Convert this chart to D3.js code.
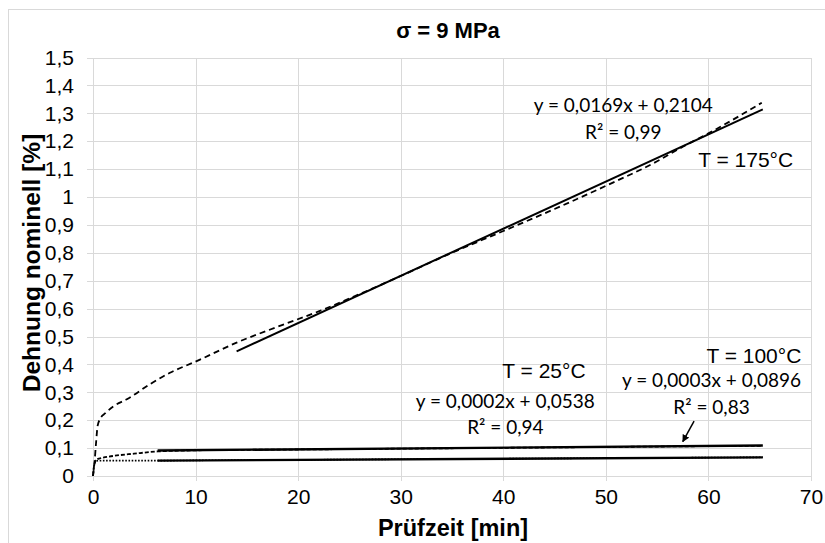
<!DOCTYPE html>
<html>
<head>
<meta charset="utf-8">
<script src="https://cdn.jsdelivr.net/npm/d3@7"></script>
<style>
  html, body { margin: 0; padding: 0; background: #fff; }
  svg { display: block; }
</style>
</head>
<body>
<svg id="chart" width="825" height="543"></svg>
<script>
// Creep test at sigma = 9 MPa: nominal strain over test time for three temperatures

// T = 175 °C measured curve (time in min, strain in %)
const t175 = [0, 0.15, 0.3, 0.45, 0.7, 1.2, 2, 3.3, 5.6, 7.5, 10, 14, 18, 22, 26, 30, 35, 40, 45, 50, 55, 57.5, 60, 63, 65.2];
const e175 = [0, 0.05, 0.12, 0.18, 0.205, 0.225, 0.25, 0.275, 0.33, 0.37, 0.41, 0.478, 0.535, 0.59, 0.652, 0.717, 0.8, 0.878, 0.957, 1.04, 1.128, 1.18, 1.228, 1.29, 1.338];

// T = 100 °C measured curve
const t100 = [0, 0.1, 0.3, 1, 2, 4, 6.3, 10, 20, 30, 40, 50, 60, 65.3];
const e100 = [0, 0.035, 0.058, 0.066, 0.072, 0.08, 0.088, 0.092, 0.095, 0.098, 0.101, 0.104, 0.107, 0.108];

// T = 25 °C measured curve
const t25 = [0, 0.1, 0.3, 1, 3, 6.3, 10, 20, 30, 40, 50, 60, 65.3];
const e25 = [0, 0.035, 0.054, 0.055, 0.055, 0.055, 0.056, 0.058, 0.06, 0.062, 0.064, 0.066, 0.067];

// Linear trendlines: slope, intercept, fitted time range
const fitSlope = [0.0169, 0.0003, 0.0002];
const fitIntercept = [0.2104, 0.0896, 0.0538];
const fitStart = [14, 6.3, 6.3];
const fitEnd = [65.3, 65.3, 65.3];
const fitEquation = ["y = 0,0169x + 0,2104", "y = 0,0003x + 0,0896", "y = 0,0002x + 0,0538"];
const fitR2 = ["R\u00B2 = 0,99", "R\u00B2 = 0,83", "R\u00B2 = 0,94"];
const seriesLabel = ["T = 175\u00B0C", "T = 100\u00B0C", "T = 25\u00B0C"];

// Axis ticks
const xTicks = [0, 10, 20, 30, 40, 50, 60, 70];
const yTicks = [0, 0.1, 0.2, 0.3, 0.4, 0.5, 0.6, 0.7, 0.8, 0.9, 1.0, 1.1, 1.2, 1.3, 1.4, 1.5];

const title = "\u03C3 = 9 MPa";
const xTitle = "Pr\u00FCfzeit [min]";
const yTitle = "Dehnung nominell [%]";

const svg = d3.select("#chart");
const W = 825, H = 543;
const plot = { left: 93, right: 811, top: 57.5, bottom: 476 };

const x = d3.scaleLinear().domain([0, 70]).range([plot.left, plot.right]);
const y = d3.scaleLinear().domain([0, 1.5]).range([plot.bottom, plot.top]);

const locale = d3.formatLocale({ decimal: ",", thousands: ".", grouping: [3], currency: ["", " €"] });
const fmt = v => locale.format("~g")(+v.toFixed(1));

const gridColor = "#d9d9d9";
const tickFont = "'Liberation Sans', Arial, sans-serif";
const calibriLike = "Lato, 'Noto Sans', sans-serif";

// chart area frame
svg.append("rect")
  .attr("x", 8.5).attr("y", 9.5)
  .attr("width", W + 20).attr("height", H + 20)
  .attr("fill", "#fff").attr("stroke", gridColor).attr("stroke-width", 1);

// horizontal gridlines with left tick marks
svg.append("g")
  .attr("transform", `translate(${plot.left},0)`)
  .call(d3.axisLeft(y).tickValues(yTicks).tickSizeInner(-(plot.right - plot.left)).tickSizeOuter(0).tickFormat(""))
  .call(g => g.select(".domain").remove())
  .call(g => g.selectAll(".tick line")
    .attr("x1", -6).attr("stroke", gridColor).attr("stroke-width", 1)
    .attr("shape-rendering", "crispEdges"));

// vertical gridlines with bottom tick marks
svg.append("g")
  .attr("transform", `translate(0,${plot.bottom})`)
  .call(d3.axisBottom(x).tickValues(xTicks).tickSizeInner(-(plot.bottom - plot.top)).tickSizeOuter(0).tickFormat(""))
  .call(g => g.select(".domain").remove())
  .call(g => g.selectAll(".tick line")
    .attr("y1", 5).attr("stroke", gridColor).attr("stroke-width", 1)
    .attr("shape-rendering", "crispEdges"));

// y tick labels
svg.append("g")
  .attr("transform", `translate(${plot.left},0)`)
  .call(d3.axisLeft(y).tickValues(yTicks).tickSize(0).tickPadding(19).tickFormat(fmt))
  .call(g => g.select(".domain").remove())
  .call(g => g.selectAll(".tick text")
    .attr("font-family", tickFont).attr("font-size", 21).attr("fill", "#000"));

// x tick labels
svg.append("g")
  .attr("transform", `translate(0,${plot.bottom})`)
  .call(d3.axisBottom(x).tickValues(xTicks).tickSize(0).tickPadding(13).tickFormat(d => String(d)))
  .call(g => g.select(".domain").remove())
  .call(g => g.selectAll(".tick text")
    .attr("font-family", tickFont).attr("font-size", 21).attr("fill", "#000"));

// measured curves
const line = d3.line().x(d => x(d[0])).y(d => y(d[1])).curve(d3.curveMonotoneX);
const zip = (a, b) => a.map((v, i) => [v, b[i]]);

svg.append("path").datum(zip(t25, e25))
  .attr("d", line).attr("fill", "none").attr("stroke", "#000")
  .attr("stroke-width", 1.6).attr("stroke-dasharray", "1.6,1.6");

svg.append("path").datum(zip(t100, e100))
  .attr("d", line).attr("fill", "none").attr("stroke", "#000")
  .attr("stroke-width", 1.8).attr("stroke-dasharray", "4,2");

svg.append("path").datum(zip(t175, e175))
  .attr("d", line).attr("fill", "none").attr("stroke", "#000")
  .attr("stroke-width", 1.8).attr("stroke-dasharray", "6,4");

// linear trendlines
fitSlope.forEach((m, i) => {
  const pts = [fitStart[i], fitEnd[i]].map(t => [t, m * t + fitIntercept[i]]);
  svg.append("path").datum(pts)
    .attr("d", d3.line().x(d => x(d[0])).y(d => y(d[1])))
    .attr("fill", "none").attr("stroke", "#000")
    .attr("stroke-width", i === 0 ? 2 : 2.4);
});

// trendline equations and coefficients of determination (placed in data space)
const eqPos = [[51.7, 1.304], [60.3, 0.318], [40.2, 0.244]];
eqPos.forEach((p, i) => {
  svg.append("text")
    .attr("x", x(p[0])).attr("y", y(p[1]))
    .attr("text-anchor", "middle")
    .attr("font-family", calibriLike).attr("font-size", 19).attr("fill", "#000")
    .text(fitEquation[i]);
  svg.append("text")
    .attr("x", x(p[0])).attr("y", y(p[1]) + 26.5)
    .attr("text-anchor", "middle")
    .attr("font-family", calibriLike).attr("font-size", 19).attr("fill", "#000")
    .text(fitR2[i]);
});

// temperature labels
const labelPos = [[59, 1.108], [59.8, 0.406], [39.9, 0.351]];
labelPos.forEach((p, i) => {
  svg.append("text")
    .attr("x", x(p[0])).attr("y", y(p[1]))
    .attr("font-family", tickFont).attr("font-size", 21).attr("fill", "#000")
    .text(seriesLabel[i]);
});

// arrow pointing at the 100 °C curve
svg.append("defs").append("marker")
  .attr("id", "arrowhead").attr("viewBox", "0 0 10 10")
  .attr("refX", 9).attr("refY", 5)
  .attr("markerWidth", 5).attr("markerHeight", 5)
  .attr("orient", "auto")
  .append("path").attr("d", "M0,0 L10,5 L0,10 z").attr("fill", "#000");
svg.append("line")
  .attr("x1", x(58.6)).attr("y1", y(0.197))
  .attr("x2", x(57.5)).attr("y2", y(0.123))
  .attr("stroke", "#000").attr("stroke-width", 1.5)
  .attr("marker-end", "url(#arrowhead)");

// titles
svg.append("text")
  .attr("x", 448).attr("y", 38)
  .attr("text-anchor", "middle")
  .attr("font-family", tickFont).attr("font-weight", "bold").attr("font-size", 22)
  .text(title);

svg.append("text")
  .attr("x", 453).attr("y", 536)
  .attr("text-anchor", "middle")
  .attr("font-family", tickFont).attr("font-weight", "bold").attr("font-size", 23.5)
  .text(xTitle);

svg.append("text")
  .attr("transform", `translate(40,263) rotate(-90)`)
  .attr("text-anchor", "middle")
  .attr("font-family", tickFont).attr("font-weight", "bold").attr("font-size", 24.5)
  .text(yTitle);
</script>
</body>
</html>
